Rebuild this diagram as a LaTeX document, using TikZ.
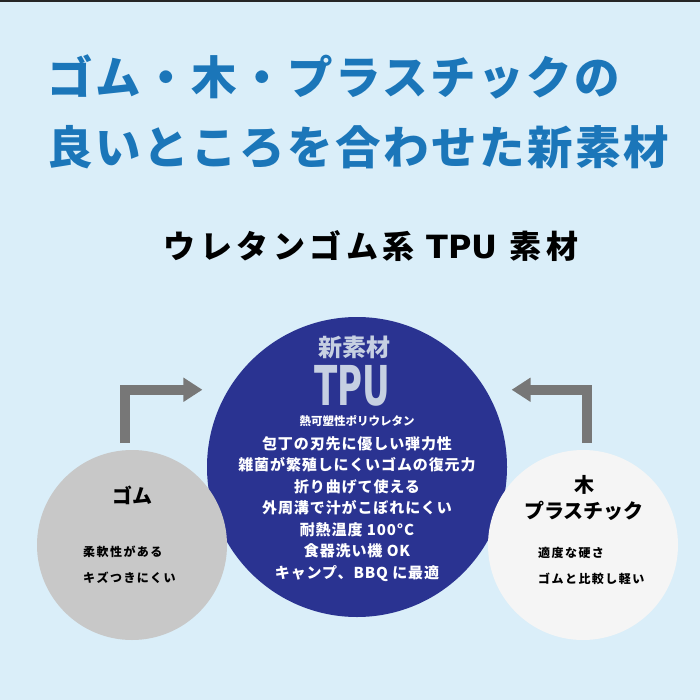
\documentclass[tikz,border=0pt]{standalone}
\usepackage{fontspec}
\setmainfont{Noto Sans CJK JP}
\newfontfamily\latinfont{DejaVu Sans}
\usetikzlibrary{arrows.meta}

\definecolor{bgblue}{HTML}{DAEEF9}
\definecolor{titleblue}{HTML}{1B76B9}
\definecolor{tpublue}{HTML}{2A3391}
\definecolor{tpugrey}{HTML}{C6D0E2}
\definecolor{arrgrey}{HTML}{777777}
\definecolor{rubbergrey}{HTML}{C8C8C8}
\definecolor{woodwhite}{HTML}{F5F5F5}

\tikzset{
  disc/.style={circle, inner sep=0pt, outer sep=0pt, minimum size=#1},
  heading/.style={anchor=west, inner sep=0pt, text=titleblue,
    font=\fontsize{45.5}{45.5}\selectfont\bfseries\addfontfeature{LetterSpace=5.5}},
  tag/.style={inner sep=0pt, font=\fontsize{20}{26}\selectfont\bfseries, align=center},
  note/.style={anchor=west, inner sep=0pt, align=left,
    font=\fontsize{12}{26}\selectfont\bfseries\addfontfeature{LetterSpace=12}},
  turn/.style={draw=arrgrey, line width=10pt, line join=miter,
    -{Triangle[length=19pt, width=23pt]}}
}

\begin{document}
\begin{tikzpicture}[x=1pt, y=-1pt]
\fill[bgblue] (0,0) rectangle (700,700);
\useasboundingbox (0,0) rectangle (700,700);
\draw[black!85, line width=2pt] (0,1) -- (700,1);

% headings
\node[heading] (h1) at (47,77) {ゴム・木・プラスチックの};
\node[heading] (h2) at (47,147) {良いところを合わせた新素材};
\node[inner sep=0pt, font=\fontsize{32}{32}\selectfont\bfseries\addfontfeature{LetterSpace=14}]
  (sub) at (371,246) {ウレタンゴム系 {\latinfont TPU} 素材};

% circles
\node[disc=300pt, fill=tpublue] (tpu) at (357,467) {};
\node[disc=190pt, fill=rubbergrey] (gomu) at (132,545) {};
\node[disc=190pt, fill=woodwhite] (ki) at (583,545) {};

% arrows
\draw[turn] ([xshift=-7pt, yshift=7pt]gomu.north) |- ([xshift=-26pt]tpu.149);
\draw[turn] ([xshift=4pt, yshift=7pt]ki.north) |- ([xshift=26pt]tpu.31);

% inside the new material
\node[inner sep=0pt, text=tpugrey, font=\fontsize{24}{24}\selectfont\bfseries] (shin) at (354,347) {新素材};
\node[inner sep=0pt, text=tpugrey, anchor=base] (tpuname) at (352,405)
  {\scalebox{0.62}[1]{\latinfont\fontsize{55}{55}\selectfont\bfseries\smash{TPU}}};
\node[inner sep=0pt, text=white, font=\fontsize{11.5}{11.5}\selectfont\bfseries] (poly) at (357,421) {熱可塑性ポリウレタン};
\node[inner sep=0pt, text=white, align=center, anchor=north,
  font=\fontsize{15}{21.5}\selectfont\bfseries\addfontfeature{LetterSpace=6}] (feat) at (357,436)
  {包丁の刃先に優しい弾力性\\
   雑菌が繁殖しにくいゴムの復元力\\
   折り曲げて使える\\
   外周溝で汁がこぼれにくい\\
   耐熱温度 100°C\\
   食器洗い機 OK\\
   キャンプ、BBQ に最適};

% rubber
\node[tag] (gomutag) at (132,495) {ゴム};
\node[note] (gomunote) at (83,565) {柔軟性がある\\キズつきにくい};

% wood and plastic
\node[tag] (kitag) at (584,498) {木\\プラスチック};
\node[note] (kinote) at (538,566) {適度な硬さ\\ゴムと比較し軽い};
\end{tikzpicture}
\end{document}
